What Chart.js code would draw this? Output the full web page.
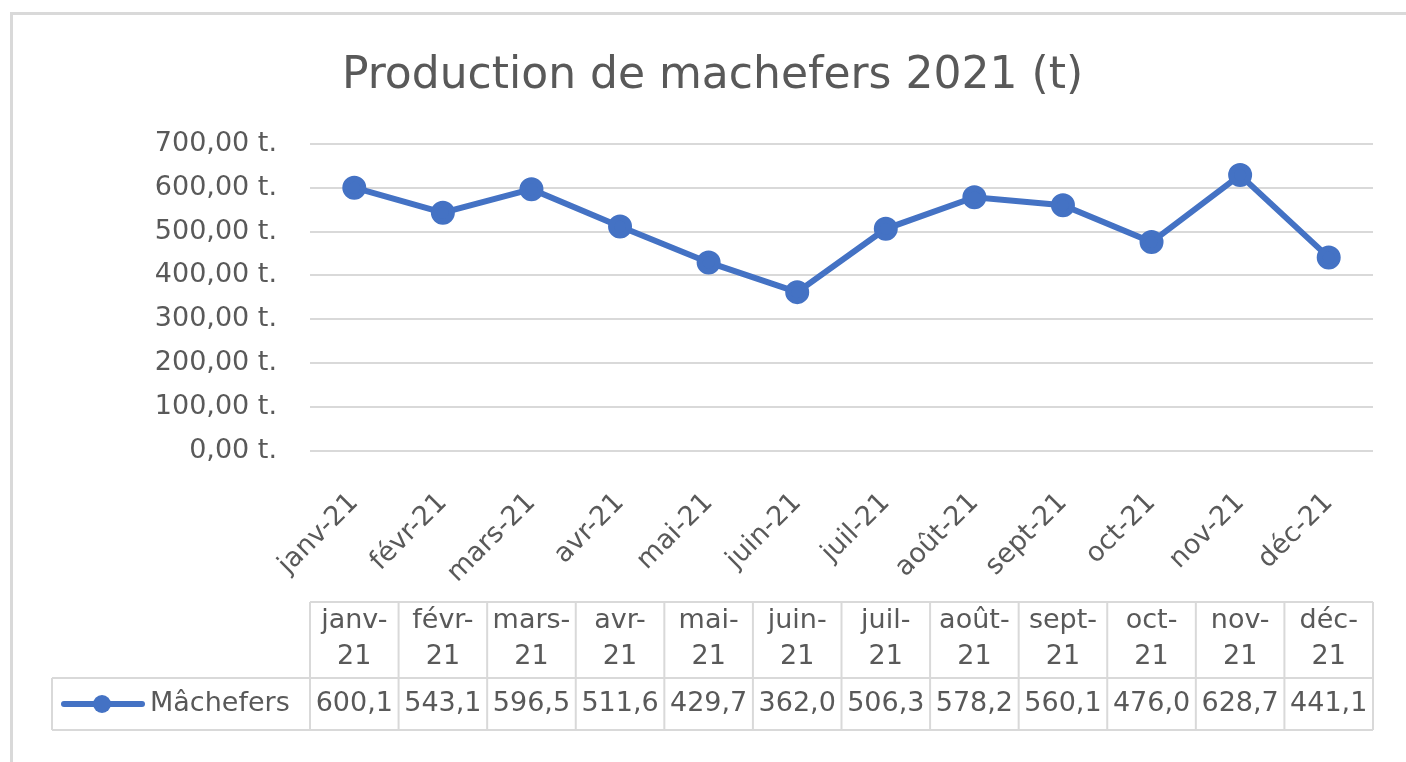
<!DOCTYPE html>
<html>
<head>
<meta charset="utf-8">
<script src="https://cdn.jsdelivr.net/npm/chart.js@4"></script>
<style>
  html, body { margin: 0; padding: 0; background: #fff; }
  #wrap { position: relative; width: 1406px; height: 762px; }
</style>
</head>
<body>
<div id="wrap"><canvas id="machefers"></canvas></div>
<script>
(function(){
    var mois = ['janv-21','févr-21','mars-21','avr-21','mai-21','juin-21','juil-21','août-21','sept-21','oct-21','nov-21','déc-21'];
    var mois_haut = ['janv-','févr-','mars-','avr-','mai-','juin-','juil-','août-','sept-','oct-','nov-','déc-'];
    var mois_bas = ['21','21','21','21','21','21','21','21','21','21','21','21'];
    var machefers = [600.1, 543.1, 596.5, 511.6, 429.7, 362.0, 506.3, 578.2, 560.1, 476.0, 628.7, 441.1];

    var gris = '#595959';
    var bleu = '#4472C4';
    var trait = '#d9d9d9';
    var police = '"DejaVu Sans", sans-serif';

    function virgule(v, n) {
        return v.toFixed(n).replace('.', ',');
    }

    // cadre + tableau de données sous le graphique
    const tableau = {
        id: 'tableau',
        beforeDraw(chart) {
            const ctx = chart.ctx;
            ctx.save();
            ctx.fillStyle = '#fff';
            ctx.fillRect(0, 0, chart.width, chart.height);
            ctx.strokeStyle = trait;
            ctx.lineWidth = 3;
            ctx.strokeRect(11.5, 13.5, 1500, 1000);
            ctx.restore();
        },
        afterDraw(chart) {
            const ctx = chart.ctx;
            const x = chart.scales.x;
            const demi = (x.right - x.left) / mois.length / 2;
            const haut = 602, milieu = 678, bas = 730, gauche = 52;
            ctx.save();
            ctx.strokeStyle = trait;
            ctx.lineWidth = 2;
            ctx.beginPath();
            // lignes horizontales
            ctx.moveTo(x.left, haut); ctx.lineTo(x.right, haut);
            ctx.moveTo(gauche, milieu); ctx.lineTo(x.right, milieu);
            ctx.moveTo(gauche, bas); ctx.lineTo(x.right, bas);
            ctx.moveTo(gauche, milieu); ctx.lineTo(gauche, bas);
            for (let i = 0; i <= mois.length; i++) {
                const px = i < mois.length ? x.getPixelForValue(i) - demi : x.right;
                ctx.moveTo(px, haut); ctx.lineTo(px, bas);
            }
            ctx.stroke();

            ctx.fillStyle = gris;
            ctx.font = '27px ' + police;
            ctx.textAlign = 'center';
            ctx.textBaseline = 'middle';
            for (let i = 0; i < mois.length; i++) {
                const cx = x.getPixelForValue(i);
                ctx.fillText(mois_haut[i], cx, 621);
                ctx.fillText(mois_bas[i], cx, 657);
                ctx.fillText(virgule(machefers[i], 1), cx, 704);
            }

            // légende dans le tableau
            ctx.strokeStyle = bleu;
            ctx.lineWidth = 6;
            ctx.lineCap = 'round';
            ctx.beginPath();
            ctx.moveTo(64, 704); ctx.lineTo(142, 704);
            ctx.stroke();
            ctx.fillStyle = bleu;
            ctx.beginPath();
            ctx.arc(102, 704, 9, 0, Math.PI * 2);
            ctx.fill();
            ctx.fillStyle = gris;
            ctx.textAlign = 'left';
            ctx.fillText('Mâchefers', 150, 704);
            ctx.restore();
        }
    };

    const data = {
        labels: mois,
        datasets: [{
            label: 'Mâchefers',
            data: machefers,
            borderColor: bleu,
            backgroundColor: bleu,
            borderWidth: 6,
            pointRadius: 9,
            pointHoverRadius: 9,
            tension: 0
        }]
    };

    // config
    const config = {
        type: 'line',
        data,
        options: {
            responsive: true,
            maintainAspectRatio: false,
            animation: false,
            layout: {
                padding: { left: 52, right: 33, top: 0, bottom: 170 }
            },
            scales: {
                x: {
                    offset: true,
                    grid: { display: false, drawTicks: false },
                    border: { display: false },
                    ticks: {
                        color: gris,
                        font: { family: police, size: 27 },
                        minRotation: 45,
                        maxRotation: 45,
                        padding: 36,
                        autoSkip: false
                    },
                    afterFit: function(s) { s.height = 762 - 451 - 170; }
                },
                y: {
                    min: 0,
                    max: 700,
                    grid: { color: trait, lineWidth: 2, drawTicks: false },
                    border: { display: false },
                    ticks: {
                        stepSize: 100,
                        color: gris,
                        padding: 33,
                        font: { family: police, size: 27 },
                        callback: function(value) {
                            return virgule(value, 2) + ' t.';
                        }
                    },
                    afterFit: function(s) { s.width = 310 - 52; }
                }
            },
            plugins: {
                legend: { display: false },
                tooltip: { enabled: false },
                title: {
                    display: true,
                    text: 'Production de machefers 2021 (t)',
                    color: gris,
                    font: { family: police, size: 44, weight: 'normal' },
                    padding: { top: 50, bottom: 41 }
                }
            }
        },
        plugins: [tableau]
    };

    // render init block
    const myChart = new Chart(
        document.getElementById('machefers'),
        config
    );
})();
</script>
</body>
</html>
